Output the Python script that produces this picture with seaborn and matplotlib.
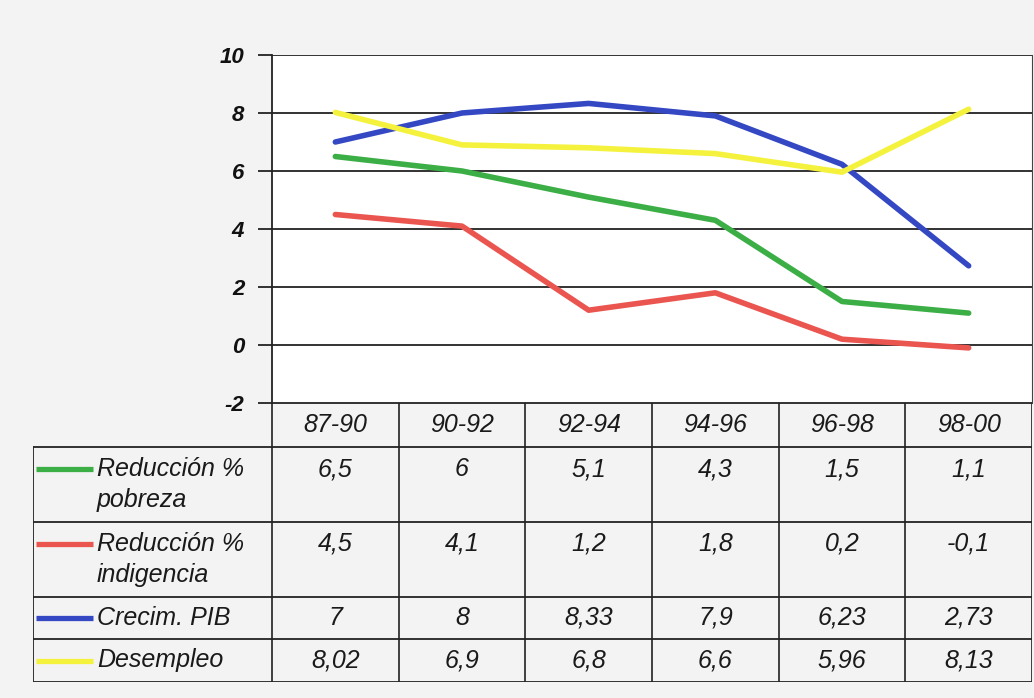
import matplotlib.pyplot as plt
import pandas as pd
import seaborn as sns

# data
periods = ['87-90', '90-92', '92-94', '94-96', '96-98', '98-00']
series = ['Reducción %\npobreza', 'Reducción %\nindigencia', 'Crecim. PIB', 'Desempleo']
pobreza = [6.5, 6, 5.1, 4.3, 1.5, 1.1]
indigencia = [4.5, 4.1, 1.2, 1.8, 0.2, -0.1]
pib = [7, 8, 8.33, 7.9, 6.23, 2.73]
desempleo = [8.02, 6.9, 6.8, 6.6, 5.96, 8.13]
colors = ['#3cae46', '#ea5550', '#3548c4', '#f4f23c']
yticks = [-2, 0, 2, 4, 6, 8, 10]

values = [pobreza, indigencia, pib, desempleo]
rows = []
for name, vals in zip(series, values):
    for i, v in enumerate(vals):
        rows.append({'serie': name, 'x': i, 'valor': v})
df = pd.DataFrame(rows)

sns.set_style('white')
plt.rcParams['font.family'] = ['Liberation Sans', 'DejaVu Sans']

W, H = 1034, 698
fig = plt.figure(figsize=(W / 100, H / 100), dpi=100, facecolor='#f4f3f4')

# chart area (pixel positions of the reference)
left, right, top, bottom = 272, 1032, 55, 403
ax = fig.add_axes([left / W, 1 - bottom / H, (right - left) / W, (bottom - top) / H])
ax.set_facecolor('white')
sns.lineplot(data=df, x='x', y='valor', hue='serie', palette=colors,
             hue_order=series, linewidth=4, legend=False, ax=ax)
ax.set_xlim(-0.5, len(periods) - 0.5)
ax.set_ylim(-2, 10)
ax.set_yticks(yticks)
ax.set_yticklabels([str(t) for t in yticks], fontsize=16, fontweight='bold',
                   fontstyle='italic', color='#111111')
ax.set_xticks([])
ax.set_xlabel('')
ax.set_ylabel('')
ax.tick_params(axis='y', length=10, width=1.3, color='#222222', pad=10, left=True)
for t in yticks:
    ax.axhline(t, color='#222222', lw=1.3, zorder=0)
for s in ['top', 'bottom']:
    ax.spines[s].set_visible(False)
ax.spines['left'].set_color('#222222')
ax.spines['left'].set_linewidth(1.3)
ax.spines['right'].set_color('#444444')

# data table underneath
tab_left, tab_bottom = 33, 682
row_edges = [403, 447, 522, 597, 639, 682]
tax = fig.add_axes([tab_left / W, 1 - tab_bottom / H, (right - tab_left) / W, (tab_bottom - 403) / H])
tax.set_xlim(tab_left, right)
tax.set_ylim(tab_bottom, 403)
tax.axis('off')
col_w = (right - left) / len(periods)
col_edges = [left + i * col_w for i in range(len(periods) + 1)]
lc = '#222222'

# horizontal lines
tax.plot([left, right], [row_edges[0], row_edges[0]], color=lc, lw=1.3)
for y in row_edges[1:]:
    tax.plot([tab_left, right], [y, y], color=lc, lw=1.3)
# vertical lines
for x in col_edges:
    tax.plot([x, x], [row_edges[0], row_edges[-1]], color=lc, lw=1.2)
tax.plot([tab_left, tab_left], [row_edges[1], row_edges[-1]], color=lc, lw=1.3)

txt = dict(fontsize=18, fontstyle='italic', color='#1a1a1a')
for i, p in enumerate(periods):
    tax.text(col_edges[i] + col_w / 2, (row_edges[0] + row_edges[1]) / 2, p,
             ha='center', va='center', **txt)

for r, (name, vals, c) in enumerate(zip(series, values, colors)):
    y0, y1 = row_edges[r + 1], row_edges[r + 2]
    two = '\n' in name
    ytxt = y0 + 22 if two else (y0 + y1) / 2
    tax.plot([36, 93], [ytxt, ytxt], color=c, lw=3.8, solid_capstyle='butt')
    tax.text(97, ytxt, name.split('\n')[0], ha='left', va='center', **txt)
    if two:
        tax.text(97, ytxt + 31, name.split('\n')[1], ha='left', va='center', **txt)
    for i, v in enumerate(vals):
        tax.text(col_edges[i] + col_w / 2, ytxt, f'{v:g}'.replace('.', ','),
                 ha='center', va='center', **txt)

fig.savefig('out.png', dpi=100, facecolor=fig.get_facecolor())
